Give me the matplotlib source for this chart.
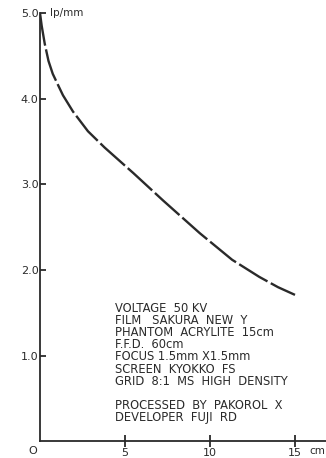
import numpy as np
import matplotlib.pyplot as plt

# resolution (lp/mm) against phantom distance (cm)
dist_cm = [0.0, 0.1, 0.28, 0.5, 0.75, 1.06, 1.35, 1.94, 2.82, 3.8, 5.5, 7.25, 9.4, 11.3, 12.9, 14.0, 15.0]
lp_mm = [5.0, 4.85, 4.64, 4.44, 4.29, 4.16, 4.04, 3.85, 3.62, 3.43, 3.13, 2.81, 2.43, 2.12, 1.92, 1.80, 1.71]

x_ticks = [5, 10, 15]
y_ticks = [1.0, 2.0, 3.0, 4.0, 5.0]

notes = [
    "VOLTAGE  50 KV",
    "FILM   SAKURA  NEW  Y",
    "PHANTOM  ACRYLITE  15cm",
    "F.F.D.  60cm",
    "FOCUS 1.5mm X1.5mm",
    "SCREEN  KYOKKO  FS",
    "GRID  8:1  MS  HIGH  DENSITY",
    "",
    "PROCESSED  BY  PAKOROL  X",
    "DEVELOPER  FUJI  RD",
]

ink = "#2a2a2a"
fig = plt.figure(figsize=(3.26, 4.58), dpi=100)
ax = fig.add_axes([40 / 326, 1 - 441.4 / 458, 286 / 326, 428.4 / 458])
ax.set_xlim(0, 286 / 17.0)
ax.set_ylim(0, 5.0)

ax.plot(dist_cm, lp_mm, color=ink, lw=1.7, dashes=(14, 1.6))

for s in ["top", "right"]:
    ax.spines[s].set_visible(False)
for s in ["left", "bottom"]:
    ax.spines[s].set_color(ink)
    ax.spines[s].set_linewidth(1.3)

ax.set_yticks(y_ticks)
ax.set_yticklabels([f"{v:.1f}" for v in y_ticks], fontsize=8, color=ink)
ax.tick_params(axis="y", direction="in", length=4, width=1.3, color=ink, pad=1)
ax.set_xticks(x_ticks)
ax.set_xticklabels([str(v) for v in x_ticks], fontsize=8, color=ink)
ax.tick_params(axis="x", direction="inout", length=8, width=1.3, color=ink, pad=1)

ax.text(-0.45, -0.11, "O", fontsize=8, color=ink, ha="center", va="center", clip_on=False)
ax.text(16.75, -0.11, "cm", fontsize=7.5, color=ink, ha="right", va="center", clip_on=False)
ax.text(0.6, 5.0, "lp/mm", fontsize=7.5, color=ink, ha="left", va="center", clip_on=False)

y0 = (441.4 - 308) / 85.7
for i, line in enumerate(notes):
    ax.text(4.4, y0 - i * 12.2 / 85.7, line, fontsize=8.3, color=ink, ha="left", va="center")

fig.savefig("out.png", dpi=100)
